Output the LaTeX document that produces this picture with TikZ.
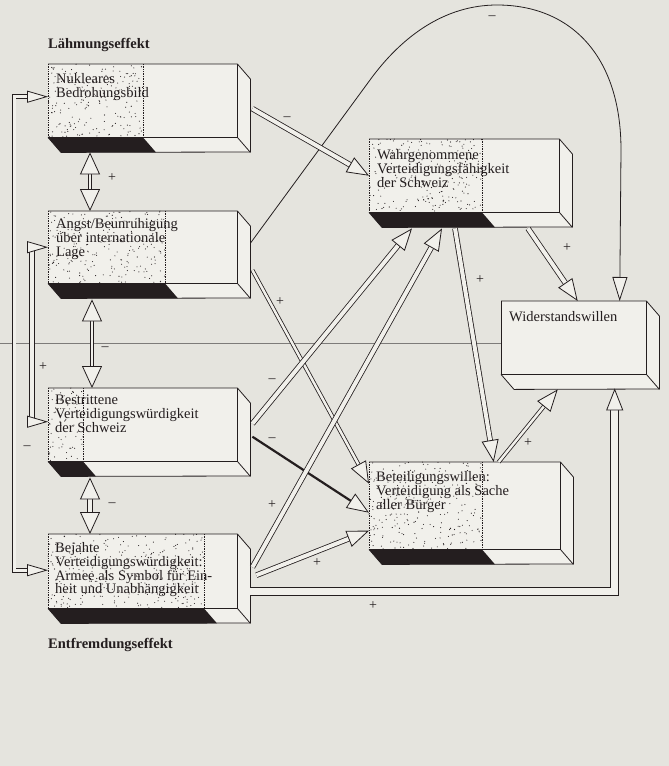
\documentclass[tikz,border=0pt]{standalone}
\usepackage{fontspec}
\setmainfont{Liberation Serif}
\usepackage{tikz}
\usetikzlibrary{calc,positioning,arrows.meta}

\definecolor{paper}{RGB}{229,228,222}
\definecolor{boxpaper}{RGB}{241,240,235}
\definecolor{ink}{RGB}{36,30,31}
\definecolor{bleed}{RGB}{125,123,121}

\tikzstyle{block} = [rectangle, fill=boxpaper, anchor=north west, inner sep=0pt]
\tikzstyle{blocktext} = [align=left, inner sep=0pt, text=ink, font=\fontsize{14.5}{13.9}\selectfont]
\tikzstyle{effect} = [anchor=west, inner sep=0pt, text=ink, font=\fontsize{14.5}{15}\selectfont\bfseries]
\tikzstyle{sign} = [inner sep=0pt, text=ink, font=\fontsize{14}{14}\selectfont]
\tikzstyle{link} = [draw=ink, line width=0.8pt, double=boxpaper, double distance=4pt, -{Triangle[fill=boxpaper, length=22pt, width=17pt]}]
\tikzstyle{thinlink} = [link, double distance=2.5pt]
\tikzstyle{widelink} = [link, double distance=7pt]
\tikzstyle{heavylink} = [draw=ink, line width=2.2pt, -{Triangle[fill=boxpaper, length=22pt, width=17pt, line width=0.8pt]}]
\tikzstyle{curve} = [draw=ink, line width=0.8pt, -{Triangle[fill=boxpaper, length=24pt, width=15pt]}]
\tikzstyle{feedback} = [draw=ink, line width=0.8pt, double=boxpaper, double distance=3pt, {Triangle[fill=boxpaper, length=21pt, width=12pt]}-{Triangle[fill=boxpaper, length=21pt, width=12pt]}]
\tikzstyle{pair} = [draw=ink, line width=0.8pt, double=boxpaper, double distance=1.5pt, {Triangle[fill=boxpaper, length=22pt, width=20pt]}-{Triangle[fill=boxpaper, length=22pt, width=20pt]}]

% side and bottom faces of a block: #1 block, #2 height
\newcommand{\blockfaces}[2]{%
  \filldraw[fill=boxpaper, draw=ink, line width=0.8pt, line join=round]
    (#1.north west) -- (#1.north east) -- ++(13,15) -- ++(0,#2)
    -- ($(#1.south west)+(13,15)$) -- (#1.south west);
  \draw[ink, line width=0.8pt] (#1.north east) -- (#1.south east) -- ++(13,15)
    (#1.south west) -- (#1.south east);
}
% stippled share of a block: #1 block, #2 width, #3 height, #4 dots
\newcommand{\stipple}[4]{%
  \fill[ink] (#1.south west) -- ++(#2,0) -- ++(13,15) -- ($(#1.south west)+(13,15)$) -- cycle;
  \foreach \k in {1,...,#4}
    \fill[ink] ($(#1.north west)+({rnd*#2},{rnd*#3})$) circle (0.55pt);
  \draw[ink, line width=0.7pt, densely dotted] (#1.north west) -- (#1.south west)
    ($(#1.north west)+(#2,0)$) -- ++(0,#3);
}

\begin{document}
\begin{tikzpicture}[x=1pt, y=-1pt]
\pgfmathsetseed{12}
\fill[paper] (0,0) rectangle (669,766);
\useasboundingbox (0,0) rectangle (669,766);
\draw[bleed, line width=0.8pt] (0,343) -- (501,343);

\node (lahm) [effect] at (48,45) {Lähmungseffekt};
\node (entf) [effect] at (48,645) {Entfremdungseffekt};

% blocks
\node (N) [block, minimum width=189pt, minimum height=73pt] at (48,64) {};
\node (A) [block, minimum width=189pt, minimum height=72pt] at (48,211) {};
\node (Bs) [block, minimum width=189pt, minimum height=73pt] at (48,388) {};
\node (Bj) [block, minimum width=189pt, minimum height=74pt] at (48,534) {};
\node (W) [block, minimum width=190pt, minimum height=73pt] at (369,139) {};
\node (R) [block, minimum width=145pt, minimum height=73pt] at (501,301) {};
\node (B) [block, minimum width=191pt, minimum height=87pt] at (369,462) {};

\blockfaces{N}{73} \stipple{N}{95}{73}{190}
\blockfaces{A}{72} \stipple{A}{117}{72}{230}
\blockfaces{Bs}{73} \stipple{Bs}{35}{73}{70}
\blockfaces{Bj}{74} \stipple{Bj}{156}{74}{300}
\blockfaces{W}{73} \stipple{W}{113}{73}{220}
\blockfaces{B}{87} \stipple{B}{113}{87}{260}
\blockfaces{R}{73}
\draw[ink, line width=0.8pt] (R.north west) -- (R.south west);

\node (N-txt) [blocktext, below right=9pt and 8pt of N.north west] {Nukleares\\Bedrohungsbild};
\node (A-txt) [blocktext, below right=7pt and 8pt of A.north west] {Angst/Beunruhigung\\über internationale\\Lage};
\node (Bs-txt) [blocktext, below right=7pt and 7pt of Bs.north west] {Bestrittene\\Verteidigungswürdigkeit\\der Schweiz};
\node (Bj-txt) [blocktext, below right=8pt and 7pt of Bj.north west] {Bejahte\\Verteidigungswürdigkeit:\\Armee als Symbol für Ein-\\heit und Unabhängigkeit};
\node (W-txt) [blocktext, below right=10pt and 8pt of W.north west] {Wahrgenommene\\Verteidigungsfähigkeit\\der Schweiz};
\node (R-txt) [blocktext, below right=10pt and 8pt of R.north west] {Widerstandswillen};
\node (B-txt) [blocktext, below right=9pt and 7pt of B.north west] {Beteiligungswillen:\\Verteidigung als Sache\\aller Bürger};

% left column
\draw[pair] ($(N.south west)+(42,15)$) -- ($(A.north west)+(42,0)$);
\draw[pair] ($(A.south west)+(44,16)$) -- ($(Bs.north west)+(44,0)$);
\draw[pair, double distance=4.5pt] ($(Bs.south west)+(42,16)$) -- ($(Bj.north west)+(42,0)$);
\draw[feedback] ($(N.west)+(0,-4)$) -- ++(-34,0) |- ($(Bj.west)+(0,-1)$);
\draw[feedback, double distance=3.5pt] (A.west) -- ++(-16,0) |- ($(Bs.west)+(0,-3)$);

% links to the right
\draw[curve] ($(A.east)+(13,-4)$) -- (370,80) .. controls (402,36) and (445,5) .. (497,5)
  .. controls (570,5) and (621,55) .. (621,150) -- ($(R.north)+(46,0)$);
\draw[link] ($(N.east)+(15,8)$) -- (W.west);
\draw[thinlink] ($(A.east)+(15,23)$) -- ($(B.west)+(0,-22)$);
\draw[link] ($(Bs.east)+(15,-1)$) -- ($(W.south west)+(43,16)$);
\draw[heavylink] ($(Bs.east)+(15,12)$) -- ($(B.west)+(0,7)$);
\draw[link] ($(Bj.east)+(15,-4)$) -- ($(W.south west)+(73,16)$);
\draw[link] ($(Bj.east)+(19,4)$) -- ($(B.west)+(0,25)$);
\draw[widelink] ($(Bj.east)+(13,20)$) -| ($(R.south)+(41,14)$);
\draw[link] ($(W.south west)+(86,16)$) -- ($(B.north)+(29,0)$);
\draw[link] ($(W.south west)+(159,16)$) -- ($(R.north)+(4,0)$);
\draw[thinlink] ($(B.north)+(34,0)$) -- ($(R.south)+(-16,15)$);

% signs
\node (s-curve) [sign] at (492,18) {\textendash};
\node (s-NW) [sign] at (287,119) {\textendash};
\node (s-NA) [sign] at (112,178) {+};
\node (s-ABs) [sign] at (105,349) {\textendash};
\node (s-inner) [sign] at (43,367) {+};
\node (s-outer) [sign] at (27,448) {\textendash};
\node (s-BsBj) [sign] at (112,505) {\textendash};
\node (s-AB) [sign] at (280,302) {+};
\node (s-BsW) [sign] at (272,381) {\textendash};
\node (s-BsB) [sign] at (272,440) {\textendash};
\node (s-BjW) [sign] at (272,505) {+};
\node (s-BjB) [sign] at (317,563) {+};
\node (s-BjR) [sign] at (373,606) {+};
\node (s-WB) [sign] at (480,280) {+};
\node (s-WR) [sign] at (567,248) {+};
\node (s-BR) [sign] at (528,443) {+};
\end{tikzpicture}
\end{document}
